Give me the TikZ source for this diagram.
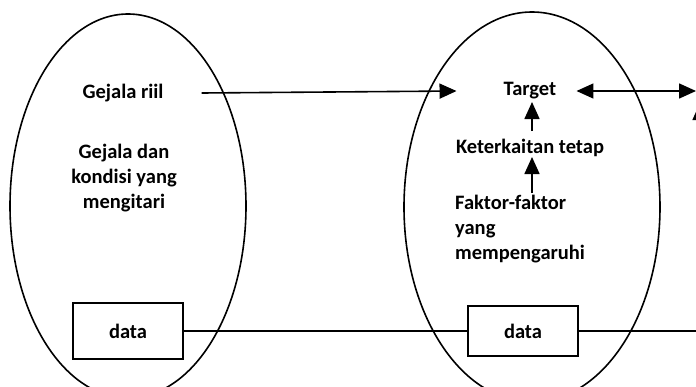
\documentclass[tikz,border=0pt]{standalone}
\usepackage{fontspec}
\setmainfont{Carlito}
\usetikzlibrary{arrows.meta}
\begin{document}
\begin{tikzpicture}[x=1pt,y=-1pt,
  every node/.style={font=\bfseries\fontsize{20.5}{25}\selectfont, inner sep=0pt},
  ln/.style={line width=1.6pt},
  arr/.style={ln, -{Triangle[length=17pt,width=15pt]}},
  databox/.style={draw, line width=1.6pt, minimum width=110pt}]
\useasboundingbox (0,0) rectangle (696,386);
\clip (0,0) rectangle (696,386);
% ellipses
\draw[ln] (128,206) ellipse [x radius=118, y radius=192];
\draw[ln] (532,207) ellipse [x radius=128, y radius=195];
% left texts
\node (griil) at (123,93) {Gejala riil};
\node (gdan) at (124,178) [align=center] {Gejala dan\\kondisi yang\\mengitari};
\node[databox, minimum height=56pt] (ldata) at (128,331) {data};
% right texts
\node (target) at (530,91) {Target};
\node (ket) at (530,148) {Keterkaitan tetap};
\node[anchor=west, align=left] (fak) at (455,229) {Faktor-faktor\\yang\\mempengaruhi};
\node[databox, minimum height=50pt] (rdata) at (523,331) {data};
% connector ends
\coordinate (ketup) at (532,131);
\coordinate (tgtdn) at (532,102);
\coordinate (fakup) at (532,193);
\coordinate (ketdn) at (532,157);
\coordinate (redge) at (696,91);
\coordinate (rline) at (696,331);
\coordinate (rup) at (700,260);
\coordinate (ruptip) at (700,103);
% connectors
\draw[arr] ([xshift=38pt]griil.east) -- ([xshift=-47pt]target.west);
\draw[ln, {Triangle[length=17pt,width=15pt]}-{Triangle[length=17pt,width=15pt]}] ([xshift=20pt]target.east) -- (redge);
\draw[arr] (ketup) -- (tgtdn);
\draw[arr] (fakup) -- (ketdn);
\draw[ln] (ldata) -- (rdata);
\draw[ln] (rdata.east) -- (rline);
\draw[arr] (rup) -- (ruptip);
\end{tikzpicture}
\end{document}
